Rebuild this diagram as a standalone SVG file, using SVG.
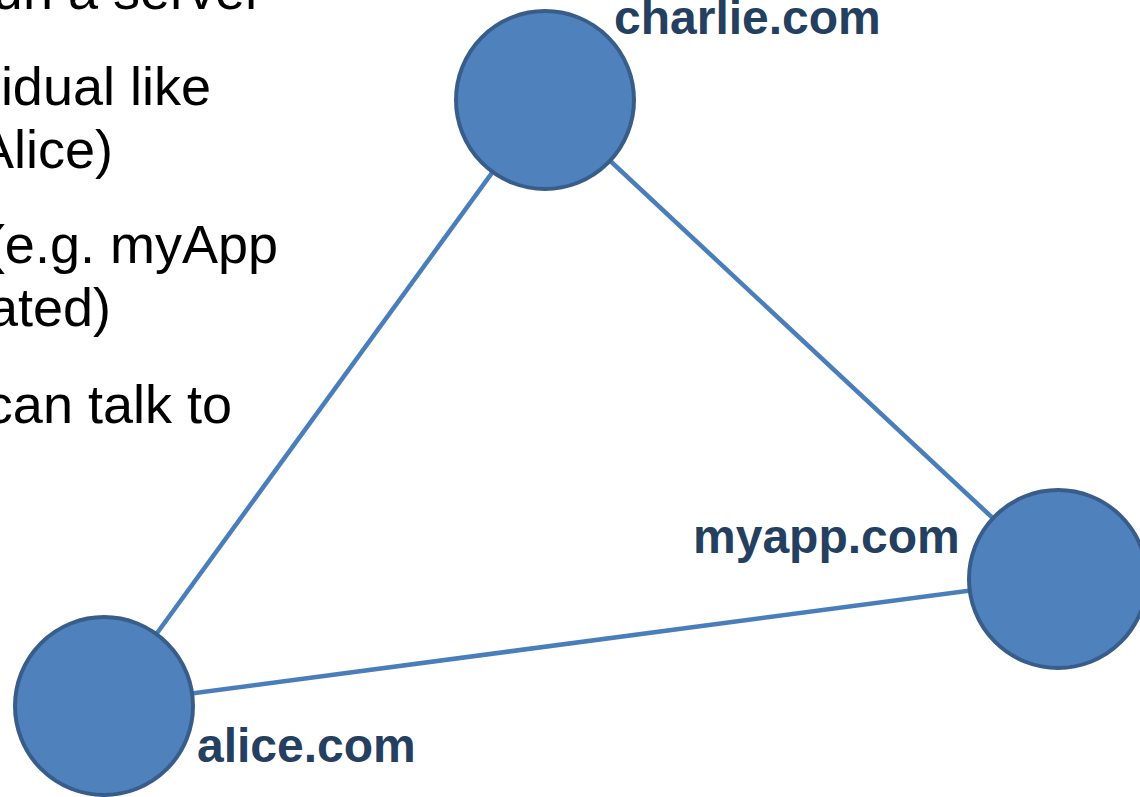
<svg xmlns="http://www.w3.org/2000/svg" width="1140" height="797" viewBox="0 0 1140 797">
<style>
.body{font-family:"Liberation Sans",Arial,sans-serif;font-size:54px;fill:#000;text-anchor:end}
.lbl{font-family:"Liberation Sans",Arial,sans-serif;font-size:48px;font-weight:bold;fill:#243f60}
.node{fill:#4f81bd;stroke:#385d8a;stroke-width:4}
.edge{stroke:#4a7ebb;stroke-width:4.5;fill:none}
</style>
<rect width="1140" height="797" fill="#ffffff"/>
<g id="bullets">
<text class="body" x="263" y="9">un a server</text>
<text class="body" x="211" y="105">idual like</text>
<text class="body" x="113" y="168">Alice)</text>
<text class="body" x="278" y="263">(e.g. myApp</text>
<text class="body" x="111" y="326">ated)</text>
<text class="body" x="232" y="423">can talk to</text>
</g>
<g id="connectors">
<line class="edge" x1="104" y1="706" x2="545" y2="100"/>
<line class="edge" x1="545" y1="100" x2="1058" y2="579"/>
<line class="edge" x1="104" y1="705" x2="1058" y2="579"/>
</g>
<g id="charlie">
<circle class="node" cx="545" cy="100" r="89"/>
<text class="lbl" x="614" y="34">charlie.com</text>
</g>
<g id="myapp">
<circle class="node" cx="1058" cy="579" r="89"/>
<text class="lbl" x="693" y="553">myapp.com</text>
</g>
<g id="alice">
<circle class="node" cx="104" cy="706" r="89"/>
<text class="lbl" x="197" y="762">alice.com</text>
</g>
</svg>
